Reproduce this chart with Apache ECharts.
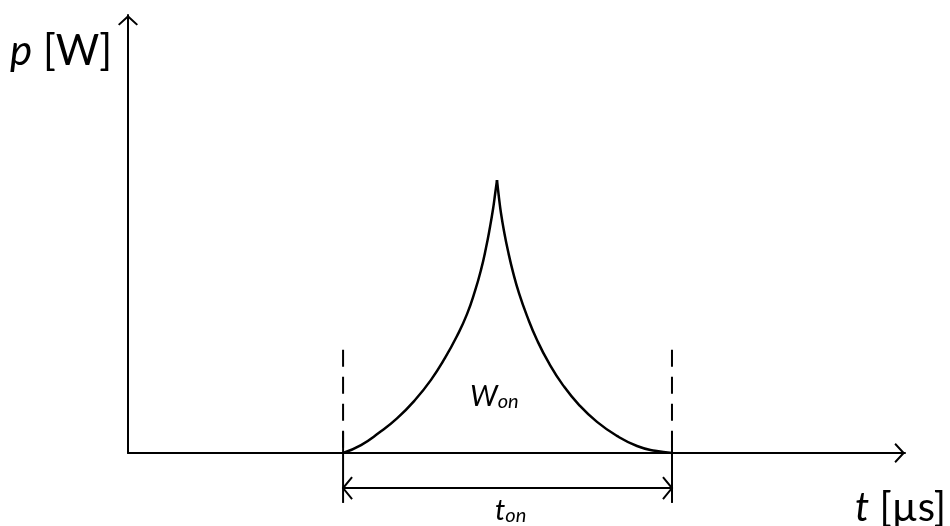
<!DOCTYPE html>
<html>
<head>
  <meta charset="utf-8">
  <title>Turn-on energy</title>
  <script src="https://cdn.jsdelivr.net/npm/echarts@6/dist/echarts.min.js"></script>
</head>
<body style="margin:0">
<div id="main" style="width: 950px;height:526px;"></div>

<script type="text/javascript">
  // power pulse during turn-on, t in us (0..10), p in W (0..10)
  var tRise = [2.768, 2.999, 3.230, 3.462, 3.694, 3.900, 4.080, 4.234, 4.363, 4.466, 4.543, 4.607, 4.659, 4.698, 4.723, 4.749];
  var pRise = [0, 0.18, 0.46, 0.79, 1.21, 1.67, 2.17, 2.67, 3.17, 3.70, 4.18, 4.68, 5.16, 5.57, 5.89, 6.23];
  var tFall = [4.749, 4.775, 4.800, 4.839, 4.891, 4.955, 5.032, 5.135, 5.264, 5.418, 5.598, 5.804, 6.036, 6.293, 6.551, 6.783, 7.001];
  var pFall = [6.23, 5.82, 5.48, 5.07, 4.61, 4.13, 3.65, 3.13, 2.58, 2.05, 1.55, 1.10, 0.71, 0.39, 0.16, 0.05, 0];

  // start / end of t_on
  var tOn = [2.768, 7.001];
  var guideTop = 2.36;      // dashed part starts here
  var guideSolidTop = 0.48; // solid extension line
  var guideBottom = -1.14;
  var dimLevel = -0.80;     // level of the t_on arrow

  var arrowPath = 'path://M10 0 L20 9.2 L18.6 10.6 L10 2.8 L1.4 10.6 L0 9.2 Z';

  function zip(xs, ys) {
    var out = [];
    for (var i = 0; i < xs.length; i++) {
      out.push([xs[i], ys[i]]);
    }
    return out;
  }

  function renderGuide(params, api) {
    var t = api.value(0);
    var top = api.coord([t, guideTop]);
    var zero = api.coord([t, 0]);
    var mid = api.coord([t, guideSolidTop]);
    var bot = api.coord([t, guideBottom]);
    return {
      type: 'group',
      children: [
        {type: 'line', shape: {x1: top[0], y1: top[1], x2: zero[0], y2: zero[1]},
          style: {stroke: '#000', lineWidth: 2, lineDash: [17, 10]}},
        {type: 'line', shape: {x1: mid[0], y1: mid[1], x2: bot[0], y2: bot[1]},
          style: {stroke: '#000', lineWidth: 2}}
      ]
    };
  }

  function renderDim(params, api) {
    var a = api.coord([api.value(0), api.value(2)]);
    var b = api.coord([api.value(1), api.value(2)]);
    var st = {stroke: '#000', lineWidth: 2, fill: null};
    return {
      type: 'group',
      children: [
        {type: 'line', shape: {x1: a[0], y1: a[1], x2: b[0], y2: b[1]}, style: st},
        {type: 'polyline', shape: {points: [[a[0] + 9, a[1] - 11], a, [a[0] + 9, a[1] + 11]]}, style: st},
        {type: 'polyline', shape: {points: [[b[0] - 9, b[1] - 11], b, [b[0] - 9, b[1] + 11]]}, style: st}
      ]
    };
  }

  var axisCommon = {
    type: 'value',
    min: 0,
    max: 10,
    axisLine: {
      show: true,
      onZero: false,
      lineStyle: {color: '#000', width: 2},
      symbol: ['none', arrowPath],
      symbolSize: [20, 10.6],
      symbolOffset: [0, -5.3]
    },
    axisTick: {show: false},
    axisLabel: {show: false},
    splitLine: {show: false}
  };

  var myChart = echarts.init(document.getElementById('main'));
  var option = {
    animation: false,
    backgroundColor: '#fff',
    grid: {left: 128, right: 45, top: 15, bottom: 73, outerBoundsMode: 'none'},
    xAxis: axisCommon,
    yAxis: axisCommon,
    graphic: [
      {type: 'text', x: 10, y: 51, style: {
        text: '{i|p} [W]', font: '42px Lato', fill: '#000', align: 'left', verticalAlign: 'middle',
        rich: {i: {fontStyle: 'italic', fontSize: 42, fontFamily: 'Lato'}}
      }},
      {type: 'text', x: 946, y: 508, style: {
        text: '{i|t} [µs]', font: '40px Lato', fill: '#000', align: 'right', verticalAlign: 'middle',
        rich: {i: {fontStyle: 'italic', fontSize: 40, fontFamily: 'Lato'}}
      }},
      {type: 'text', x: 470, y: 397, style: {
        text: '{a|W}{b|on}', fill: '#000', align: 'left', verticalAlign: 'middle',
        rich: {
          a: {fontStyle: 'italic', fontSize: 29, fontFamily: 'Lato', verticalAlign: 'bottom', lineHeight: 29},
          b: {fontStyle: 'italic', fontSize: 20, fontFamily: 'Lato', verticalAlign: 'bottom', lineHeight: 24}
        }
      }},
      {type: 'text', x: 495, y: 511, style: {
        text: '{a|t}{b|on}', fill: '#000', align: 'left', verticalAlign: 'middle',
        rich: {
          a: {fontStyle: 'italic', fontSize: 29, fontFamily: 'Lato', verticalAlign: 'bottom', lineHeight: 29},
          b: {fontStyle: 'italic', fontSize: 20, fontFamily: 'Lato', verticalAlign: 'bottom', lineHeight: 24}
        }
      }}
    ],
    series: [
      {
        name: 'rise',
        type: 'line',
        data: zip(tRise, pRise),
        showSymbol: false,
        smooth: 0.5,
        lineStyle: {color: '#000', width: 2.5, join: 'round'},
        z: 3
      },
      {
        name: 'fall',
        type: 'line',
        data: zip(tFall, pFall),
        showSymbol: false,
        smooth: 0.5,
        lineStyle: {color: '#000', width: 2.5, join: 'round'},
        z: 3
      },
      {
        type: 'custom',
        renderItem: renderGuide,
        data: tOn.map(function (t) { return [t, 0]; }),
        clip: false,
        silent: true
      },
      {
        type: 'custom',
        renderItem: renderDim,
        data: [[tOn[0], tOn[1], dimLevel]],
        encode: {x: [0, 1], y: 2},
        clip: false,
        silent: true
      }
    ]
  };
  myChart.setOption(option);
</script>
</body>
</html>
